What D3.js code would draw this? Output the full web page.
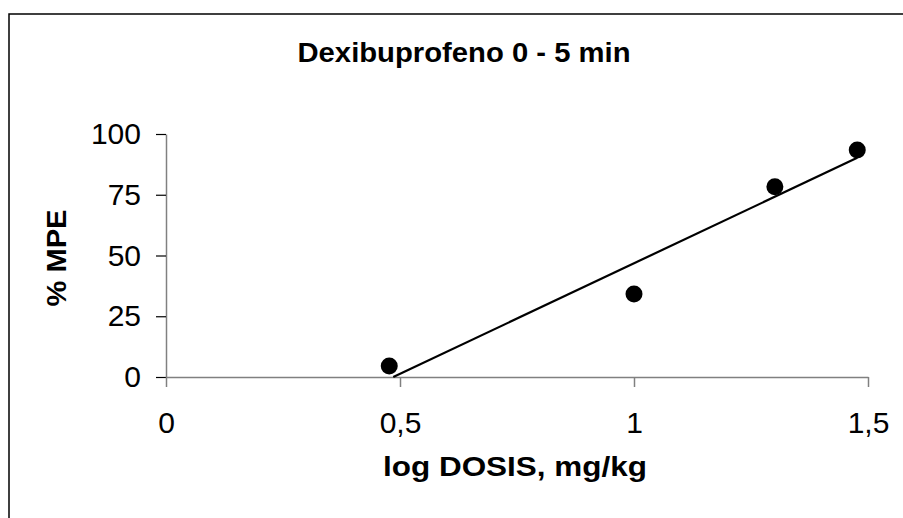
<!DOCTYPE html>
<html>
<head>
<meta charset="utf-8">
<script src="https://cdn.jsdelivr.net/npm/d3@7"></script>
<style>
  html, body { margin: 0; padding: 0; background: #fff; }
  svg { display: block; font-family: "Liberation Sans", Arial, sans-serif; }
</style>
</head>
<body>
<svg width="903" height="518"></svg>
<script>
const WIDTH = 903;
const HEIGHT = 518;

// ---------- data ----------
const logDose = [0.477, 1, 1.301, 1.477];
const mpe = [4.5, 34.2, 78.3, 93.4];
const xTicks = [0, 0.5, 1, 1.5];
const yTicks = [0, 25, 50, 75, 100];
const title = 'Dexibuprofeno 0 - 5 min';
const xTitle = 'log DOSIS, mg/kg';
const yTitle = '% MPE';

const svg = d3.select('svg');

// frame of the chart area (cut by the image on right/bottom)
svg.append('path')
  .attr('d', `M9,${HEIGHT} V14 H${WIDTH}`)
  .attr('fill', 'none')
  .attr('stroke', '#000')
  .attr('stroke-width', 1.5);

const x = d3.scaleLinear().domain([0, 1.5]).range([166, 868]);
const y = d3.scaleLinear().domain([0, 100]).range([377, 134]);

const locale = d3.formatLocale({ decimal: ',', thousands: '.', grouping: [3], currency: ['', '€'] });
const fmt = locale.format('~g');

// ---------- axes ----------
const yAxis = svg.append('g')
  .attr('transform', `translate(${x(0)},0)`)
  .call(d3.axisLeft(y).tickValues(yTicks).tickSize(10).tickSizeOuter(0).tickPadding(15));
yAxis.select('.domain').attr('stroke', '#808080').attr('stroke-width', 1.5);
yAxis.selectAll('.tick line').attr('stroke', '#000').attr('stroke-width', 1.2);
yAxis.selectAll('.tick text')
  .attr('font-size', 30)
  .attr('font-family', '"Liberation Sans", Arial, sans-serif')
  .attr('fill', '#000');

const xAxis = svg.append('g')
  .attr('transform', `translate(0,${y(0)})`)
  .call(d3.axisBottom(x).tickValues(xTicks).tickFormat(fmt).tickSize(10).tickSizeOuter(0).tickPadding(25));
xAxis.select('.domain').attr('stroke', '#808080').attr('stroke-width', 1.5);
xAxis.selectAll('.tick line').attr('stroke', '#808080').attr('stroke-width', 1.5);
xAxis.selectAll('.tick text')
  .attr('font-size', 30)
  .attr('font-family', '"Liberation Sans", Arial, sans-serif')
  .attr('fill', '#000');

// ---------- trend line (least squares, clipped at y = 0) ----------
const mx = d3.mean(logDose);
const my = d3.mean(mpe);
const sxy = d3.sum(logDose, (d, i) => (d - mx) * (mpe[i] - my));
const sxx = d3.sum(logDose, d => (d - mx) ** 2);
const slope = sxy / sxx;
const intercept = my - slope * mx;
const x0 = Math.max(d3.min(logDose), -intercept / slope);
const x1 = d3.max(logDose);

svg.append('line')
  .attr('x1', x(x0)).attr('y1', y(slope * x0 + intercept))
  .attr('x2', x(x1)).attr('y2', y(slope * x1 + intercept))
  .attr('stroke', '#000')
  .attr('stroke-width', 2.2);

// ---------- points ----------
svg.append('g')
  .selectAll('circle')
  .data(logDose)
  .join('circle')
  .attr('cx', d => x(d))
  .attr('cy', (d, i) => y(mpe[i]))
  .attr('r', 8.5)
  .attr('fill', '#000');

// ---------- titles ----------
svg.append('text')
  .attr('x', 464).attr('y', 62)
  .attr('text-anchor', 'middle')
  .attr('font-size', 27).attr('font-weight', 'bold')
  .attr('textLength', 333).attr('lengthAdjust', 'spacingAndGlyphs')
  .text(title);

svg.append('text')
  .attr('x', 515).attr('y', 476)
  .attr('text-anchor', 'middle')
  .attr('font-size', 27).attr('font-weight', 'bold')
  .attr('textLength', 264).attr('lengthAdjust', 'spacingAndGlyphs')
  .text(xTitle);

svg.append('text')
  .attr('transform', 'translate(66,258) rotate(-90)')
  .attr('text-anchor', 'middle')
  .attr('font-size', 27).attr('font-weight', 'bold')
  .attr('textLength', 97).attr('lengthAdjust', 'spacingAndGlyphs')
  .text(yTitle);
</script>
</body>
</html>
